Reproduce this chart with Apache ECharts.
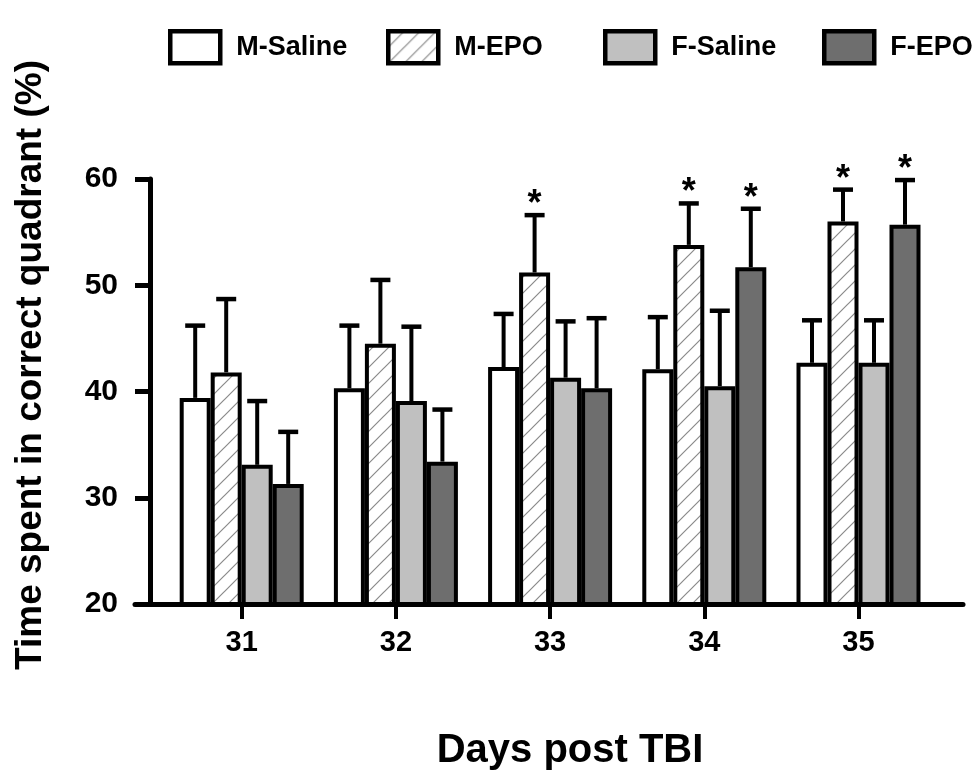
<!DOCTYPE html>
<html>
<head>
<meta charset="utf-8">
<script src="https://cdn.jsdelivr.net/npm/echarts@6/dist/echarts.min.js"></script>
<style>
html,body{margin:0;padding:0;background:#fff;}
#chart{width:976px;height:775px;}
</style>
</head>
<body>
<div id="chart"></div>
<script>
// ---- data ----
const categories = ['31', '32', '33', '34', '35'];
const seriesNames = ['M-Saline', 'M-EPO', 'F-Saline', 'F-EPO'];
const mSalineMean = [39.4, 40.3, 42.3, 42.1, 42.7];
const mSalineSem  = [6.8, 5.9, 5.0, 4.9, 4.0];
const mEpoMean    = [41.8, 44.5, 51.2, 53.8, 56.0];
const mEpoSem     = [6.9, 6.0, 5.4, 3.9, 3.0];
const fSalineMean = [33.1, 39.1, 41.3, 40.5, 42.7];
const fSalineSem  = [6.0, 7.0, 5.3, 7.1, 4.0];
const fEpoMean    = [31.3, 33.4, 40.3, 51.7, 55.7];
const fEpoSem     = [4.9, 4.9, 6.6, 5.5, 4.2];
const mSalineSig  = [0, 0, 0, 0, 0];
const mEpoSig     = [0, 0, 1, 1, 1];
const fSalineSig  = [0, 0, 0, 0, 0];
const fEpoSig     = [0, 0, 0, 1, 1];
const yMin = 20, yMax = 60, yInterval = 10;
const xTitle = 'Days post TBI';
const yTitle = 'Time spent in correct quadrant (%)';

// ---- styling ----
const FONT = '"Liberation Sans", Arial, Helvetica, sans-serif';
const BAR_W = 31;
const BORDER = 4;

function hatchPattern() {
  const c = document.createElement('canvas');
  const s = 16;
  c.width = s; c.height = s;
  const g = c.getContext('2d');
  g.fillStyle = '#ffffff';
  g.fillRect(0, 0, s, s);
  g.strokeStyle = '#8a8a8a';
  g.lineWidth = 1.2;
  g.beginPath();
  g.moveTo(-2, s + 2); g.lineTo(s + 2, -2);
  g.moveTo(-2, 2); g.lineTo(2, -2);
  g.moveTo(s - 2, s + 2); g.lineTo(s + 2, s - 2);
  g.stroke();
  return c;
}
const fills = ['#ffffff', { image: hatchPattern(), repeat: 'repeat' }, '#c0c0c0', '#6e6e6e'];
const means = [mSalineMean, mEpoMean, fSalineMean, fEpoMean];
const sems = [mSalineSem, mEpoSem, fSalineSem, fEpoSem];
const sigs = [mSalineSig, mEpoSig, fSalineSig, fEpoSig];

const chart = echarts.init(document.getElementById('chart'), null, { renderer: 'canvas' });

const barSeries = seriesNames.map((name, i) => ({
  name: name,
  type: 'bar',
  xAxisIndex: 0,
  yAxisIndex: 0,
  barWidth: BAR_W,
  barGap: '0%',
  data: means[i],
  itemStyle: { color: fills[i], borderColor: '#000', borderWidth: BORDER },
  emphasis: { disabled: true },
  z: 3
}));

const errSeries = seriesNames.map((name, i) => ({
  name: name + ' err',
  type: 'custom',
  xAxisIndex: 0,
  yAxisIndex: 0,
  z: 5,
  silent: true,
  clip: false,
  data: categories.map((c, k) => [k, means[i][k], sems[i][k], sigs[i][k]]),
  renderItem: function (params, api) {
    const k = api.value(0), m = api.value(1), s = api.value(2), sg = api.value(3);
    const base = api.coord([k, m]);
    const top = api.coord([k, m + s]);
    const x = base[0] + (i - 1.5) * BAR_W;
    const children = [
      { type: 'line', shape: { x1: x, y1: base[1], x2: x, y2: top[1] },
        style: { stroke: '#000', lineWidth: 4 } },
      { type: 'line', shape: { x1: x - 10, y1: top[1], x2: x + 10, y2: top[1] },
        style: { stroke: '#000', lineWidth: 4.5 } }
    ];
    if (sg) {
      children.push({ type: 'text', x: x, y: top[1] - 10,
        style: { text: '*', font: 'bold 36px ' + FONT, fill: '#000',
                 align: 'center', verticalAlign: 'middle' } });
    }
    return { type: 'group', children: children };
  }
}));

const legendLefts = [163, 381, 598, 817];
const legends = seriesNames.map((name, i) => ({
  data: [name],
  left: legendLefts[i],
  top: 24,
  orient: 'horizontal',
  icon: 'rect',
  itemWidth: 50,
  itemHeight: 32,
  selectedMode: false,
  itemStyle: { borderColor: '#000', borderWidth: 4.5 },
  textStyle: { fontFamily: FONT, fontWeight: 'bold', fontSize: 27, color: '#000', padding: [0, 0, 0, 11] }
}));

const option = {
  animation: false,
  backgroundColor: '#ffffff',
  legend: legends,
  grid: [
    { left: 164.6, right: 40.4, top: 179, bottom: 171, outerBoundsMode: 'none', containLabel: false },
    { left: 135, right: 13, top: 179, bottom: 171, outerBoundsMode: 'none', containLabel: false }
  ],
  xAxis: [
    {
      type: 'category', gridIndex: 0, data: categories,
      axisLine: { show: false },
      axisTick: { show: true, alignWithLabel: true, length: 15, lineStyle: { color: '#000', width: 4 } },
      axisLabel: { color: '#000', fontFamily: FONT, fontWeight: 'bold', fontSize: 29, margin: 24 },
      splitLine: { show: false }
    },
    {
      type: 'value', gridIndex: 1, min: 0, max: 1,
      axisLine: { show: true, onZero: false, lineStyle: { color: '#000', width: 5 } },
      axisTick: { show: false }, axisLabel: { show: false }, splitLine: { show: false }
    }
  ],
  yAxis: [
    {
      type: 'value', gridIndex: 0, min: yMin, max: yMax, interval: yInterval,
      offset: 14.6,
      axisLine: { show: true, lineStyle: { color: '#000', width: 5 } },
      axisTick: { show: true, length: 15, lineStyle: { color: '#000', width: 5 } },
      axisLabel: { color: '#000', fontFamily: FONT, fontWeight: 'bold', fontSize: 30, margin: 32 },
      splitLine: { show: false }
    },
    { type: 'value', gridIndex: 1, min: 0, max: 1, show: false }
  ],
  graphic: [
    { type: 'text', x: 31, y: 365, rotation: Math.PI / 2,
      style: { text: yTitle, font: 'bold 37px ' + FONT, fill: '#000', align: 'center', verticalAlign: 'middle' } },
    { type: 'text', x: 570, y: 751,
      style: { text: xTitle, font: 'bold 40px ' + FONT, fill: '#000', align: 'center', verticalAlign: 'middle' } }
  ],
  series: barSeries.concat(errSeries)
};
chart.setOption(option);
</script>
</body>
</html>
